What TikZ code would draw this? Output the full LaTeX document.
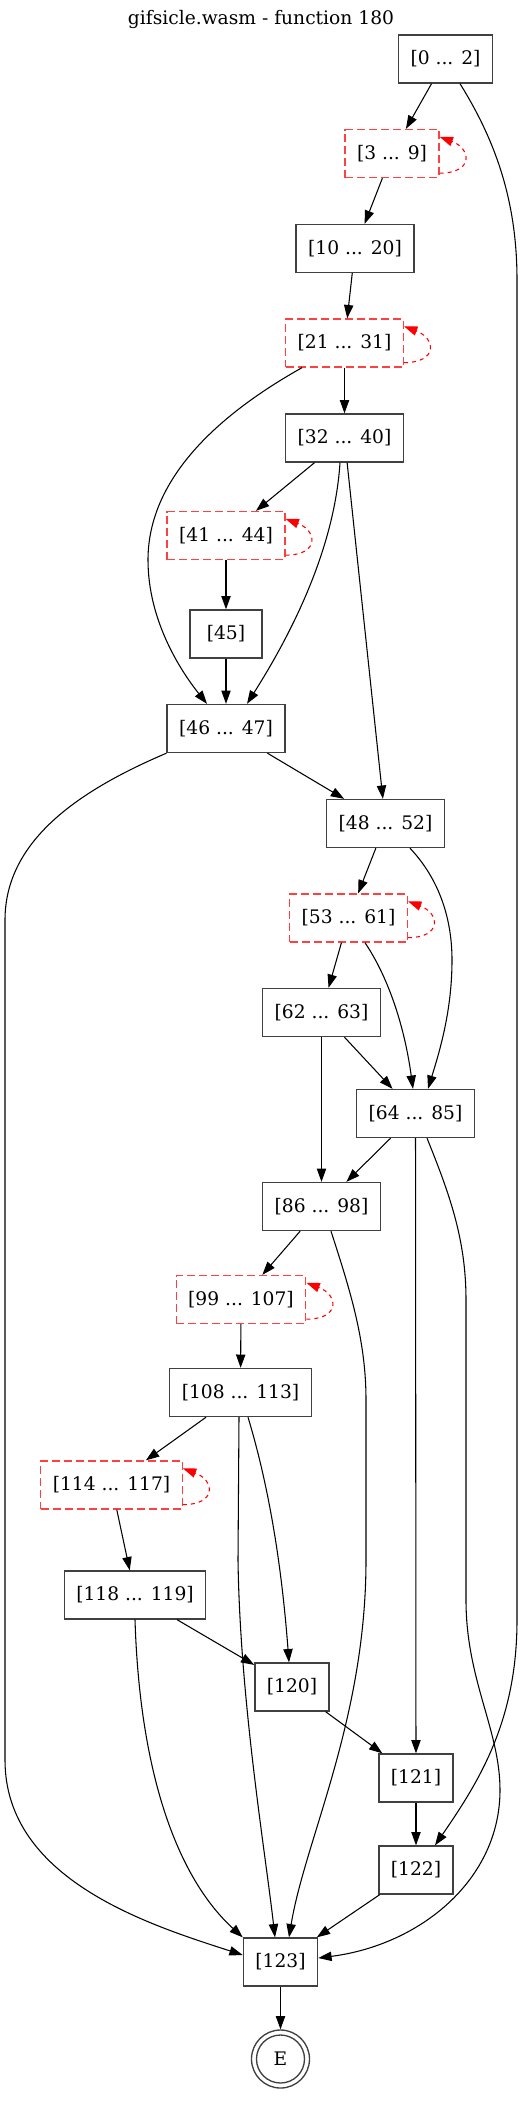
\documentclass[tikz,border=0pt]{standalone}
\usepackage{fontspec}
\setmainfont{DejaVu Serif}
\usetikzlibrary{arrows.meta}

\begin{document}
\begin{tikzpicture}[x=0.75pt,y=-0.75pt,
  txt/.style={font=\fontsize{14}{16}\selectfont},
  blk/.style={txt,draw=black!75,line width=1pt,minimum width=54pt,minimum height=36pt,inner xsep=9pt},
  lp/.style={blk,draw=red!75!white,dash pattern=on 6pt off 3pt},
  e/.style={-{Triangle[length=10pt,width=7pt]},line width=0.8pt},
  ]
  \useasboundingbox (0,0) rectangle (524,2116);

  \node[txt] (title) at (261,19) {gifsicle.wasm - function 180};

  \node[blk] (n0) at (445.5,59) {[0 ... 2]};
  \node[lp] (n3) at (392,153.5) {[3 ... 9]};
  \node[blk] (n10) at (355,248.5) {[10 ... 20]};
  \node[lp] (n21) at (344.5,343) {[21 ... 31]};
  \node[blk] (n32) at (344.5,438) {[32 ... 40]};
  \node[lp] (n41) at (226,535.5) {[41 ... 44]};
  \node[blk] (n45) at (226,634) {[45]};
  \node[blk] (n46) at (226,728.5) {[46 ... 47]};
  \node[blk] (n48) at (385.5,823.5) {[48 ... 52]};
  \node[lp] (n53) at (348.5,918) {[53 ... 61]};
  \node[blk] (n62) at (321.5,1012.5) {[62 ... 63]};
  \node[blk] (n64) at (415.5,1113.5) {[64 ... 85]};
  \node[blk] (n86) at (321.5,1206.5) {[86 ... 98]};
  \node[lp] (n99) at (241,1299.5) {[99 ... 107]};
  \node[blk] (n108) at (240.5,1392.5) {[108 ... 113]};
  \node[lp] (n114) at (111.5,1485) {[114 ... 117]};
  \node[blk] (n118) at (135,1595) {[118 ... 119]};
  \node[blk] (n120) at (292,1687) {[120]};
  \node[blk] (n121) at (416,1778) {[121]};
  \node[blk] (n122) at (416,1870) {[122]};
  \node[blk] (n123) at (280.5,1962) {[123]};
  \node[txt,draw=black!75,line width=1pt,circle,minimum size=43.5pt,inner sep=0pt] (E) at (280.5,2059) {E};
  \draw[black!75,line width=1pt] (E.center) circle[radius=18pt];

  \foreach \a/\b in {n0/n3,n3/n10,n10/n21,n21/n32,n32/n41,n32/n48,n41/n45,n45/n46,n46/n48,
    n48/n53,n53/n62,n62/n64,n62/n86,n64/n86,n64/n121,n86/n99,n99/n108,n108/n114,
    n114/n118,n118/n120,n120/n121,n121/n122,n122/n123,n123/E}
    \draw[e] (\a) -- (\b);

  \foreach \n in {n3,n21,n41,n53,n99,n114}
    \draw[e,red,dashed] ([shift={(0,-5)}]\n.south east) .. controls +(34,0) and +(32,12) .. ([shift={(0,8)}]\n.north east);

  \draw[e] ([shift={(14.5,0)}]n0.south) .. controls (495,140) and (517,200) .. (517,280) -- (517,1620)
    .. controls (517,1720) and (480,1780) .. ([shift={(19,0)}]n122.north);
  \draw[e] ([shift={(-42.5,0)}]n21.south) .. controls (200,425) and (148,490) .. (148,560)
    .. controls (148,620) and (180,670) .. ([shift={(-19,0)}]n46.north);
  \draw[e] ([shift={(-4.5,0)}]n32.south) .. controls (335,540) and (300,620) .. ([shift={(21,0)}]n46.north);
  \draw[e] (n46.south west) .. controls (80,790) and (5,840) .. (5,920) -- (5,1760)
    .. controls (5,1880) and (150,1925) .. ([shift={(0,-7)}]n123.west);
  \draw[e] ([shift={(24.5,0)}]n48.south) .. controls (440,880) and (452,920) .. (452,960)
    .. controls (452,1010) and (440,1050) .. ([shift={(12.5,0)}]n64.north);
  \draw[e] ([shift={(16.5,0)}]n53.south) .. controls (390,980) and (405,1030) .. ([shift={(-2.5,0)}]n64.north);
  \draw[e] ([shift={(11.5,0)}]n64.south) .. controls (450,1195) and (466,1240) .. (466,1300) -- (466,1600)
    .. controls (466,1680) and (500,1730) .. (500,1790)
    .. controls (500,1880) and (420,1945) .. ([shift={(0,-4)}]n123.east);
  \draw[e] ([shift={(9.5,0)}]n86.south) .. controls (350,1290) and (366,1340) .. (366,1400) -- (366,1560)
    .. controls (366,1720) and (305,1840) .. ([shift={(8.5,0)}]n123.north);
  \draw[e] ([shift={(-1.5,0)}]n108.south) -- (238,1560)
    .. controls (240,1700) and (265,1850) .. ([shift={(-5.5,0)}]n123.north);
  \draw[e] ([shift={(7.5,0)}]n108.south) .. controls (270,1490) and (282,1570) .. ([shift={(-3,0)}]n120.north);
  \draw[e] (n118.south) .. controls (140,1780) and (180,1880) .. (n123.north west);
\end{tikzpicture}
\end{document}
